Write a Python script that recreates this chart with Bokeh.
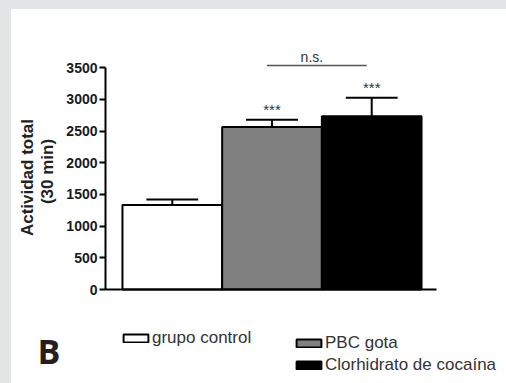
import math
from bokeh.plotting import figure
from bokeh.models import (ColumnDataSource, Range1d, FixedTicker, Label, Legend,
                          LegendItem, GlobalInlineStyleSheet)
from bokeh.core.properties import value
from bokeh.embed import file_html
from bokeh.resources import INLINE

# ---- data ----
categories = ["grupo control", "PBC gota", "Clorhidrato de cocaína"]
means = [1335, 2565, 2735]
sem = [85, 115, 290]
colors = ["#ffffff", "#808080", "#000000"]
significance = ["", "***", "***"]
yticks = [0, 500, 1000, 1500, 2000, 2500, 3000, 3500]
ns_pair = [1, 2]
ns_y = 3535

FONT = "Liberation Sans"
X_AXIS_START, X_AXIS_END = -0.67, 2.65

xs = list(range(len(categories)))
src = ColumnDataSource(dict(
    x=xs, cat=categories, mean=means, sem=sem, color=colors, sig=significance,
    top=[m + s for m, s in zip(means, sem)],
    star_y=[m + s + 30 for m, s in zip(means, sem)],
    cap0=[x - 0.26 for x in xs], cap1=[x + 0.26 for x in xs],
))

p = figure(width=495, height=374, output_backend="svg", toolbar_location=None,
           x_range=Range1d(-1.613, 3.352), y_range=Range1d(-1483, 4418),
           min_border=0, min_border_left=0, min_border_right=0,
           min_border_top=0, min_border_bottom=0, margin=(9, 0, 0, 11))
p.stylesheets = [GlobalInlineStyleSheet(css=(
    "html, body { background: linear-gradient(#e3e4e6,#e3e4e6) left top / 11px 100% no-repeat,"
    " linear-gradient(#e3e4e6,#e3e4e6) left top / 100% 9px no-repeat, #ffffff; }"))]
p.background_fill_color = "white"
p.border_fill_color = "white"
p.outline_line_color = None
p.grid.visible = False

# error bars (upper only)
p.segment(x0="x", y0="mean", x1="x", y1="top", source=src, line_color="black", line_width=2)
p.segment(x0="cap0", y0="top", x1="cap1", y1="top", source=src, line_color="black", line_width=2)

bars = p.vbar(x="x", top="mean", width=1.0, bottom=0, source=src,
              fill_color="color", line_color="black", line_width=2)

# significance stars
p.text(x="x", y="star_y", text="sig", source=src, text_align="center",
       text_baseline="bottom", text_font=value(FONT), text_font_size="15px",
       text_color="#333333")

# n.s. bracket
p.segment(x0=[ns_pair[0] - 0.05], y0=[ns_y], x1=[ns_pair[1] - 0.05], y1=[ns_y],
          line_color="#555555", line_width=1.5)
p.add_layout(Label(x=(ns_pair[0] + ns_pair[1]) / 2 - 0.1, y=ns_y, text="n.s.",
                   text_align="center", text_baseline="bottom",
                   text_font=FONT, text_font_size="14px", text_color="#333333"))

# axes (placed inside the frame)
yax = p.yaxis[0]
yax.fixed_location = X_AXIS_START
yax.ticker = FixedTicker(ticks=yticks)
yax.bounds = (0, 3500)
yax.axis_line_width = 2
yax.axis_line_color = "black"
yax.major_tick_line_width = 2
yax.major_tick_out = 6
yax.major_tick_in = 0
yax.minor_tick_line_color = None
yax.major_label_standoff = 2
yax.major_label_text_font = FONT
yax.major_label_text_font_style = "bold"
yax.major_label_text_font_size = "14px"
yax.major_label_text_color = "#1a1a1a"

xax = p.xaxis[0]
xax.fixed_location = 0
xax.bounds = (X_AXIS_START, X_AXIS_END)
xax.axis_line_width = 2
xax.axis_line_color = "black"
xax.major_tick_line_color = None
xax.minor_tick_line_color = None
xax.major_label_text_font_size = "0px"
xax.major_label_text_alpha = 0

# y label (two lines)
for txt, xpos, ypos in [("Actividad total", -1.452, 1767), ("(30 min)", -1.252, 1862)]:
    p.add_layout(Label(x=xpos, y=ypos, text=txt, angle=math.pi / 2,
                       text_align="center", text_baseline="middle",
                       text_font=FONT, text_font_style="bold",
                       text_font_size="17px", text_color="#222222"))

# panel letter
p.add_layout(Label(x=-1.352, y=-978, text="B", text_font="Open Sans",
                   text_font_style="bold", text_font_size="34px",
                   text_color="#231f20", text_baseline="middle"))

def make_legend(indices, loc):
    return Legend(items=[LegendItem(label=categories[i], renderers=[bars], index=i)
                         for i in indices],
                  location=loc, orientation="vertical",
                  glyph_width=31, glyph_height=10, label_height=17, spacing=2,
                  label_standoff=1, padding=0, margin=0,
                  border_line_alpha=0, background_fill_alpha=0,
                  label_text_font=FONT, label_text_font_size="17px",
                  label_text_color="#333333")

p.add_layout(make_legend([0], (109, 35)))
p.add_layout(make_legend([1, 2], (282, 8)))

open("out.html", "w").write(file_html(p, INLINE))
